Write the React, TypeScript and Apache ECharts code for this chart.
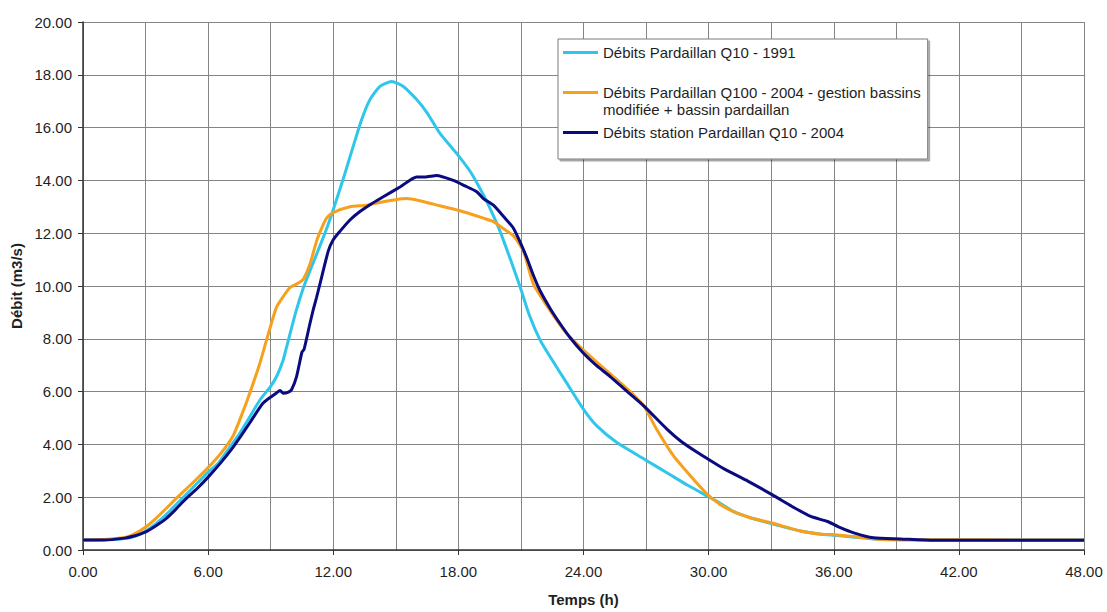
import React, { useEffect, useRef } from "react";
import * as echarts from "echarts";

// Hydrogrammes de crue à Pardaillan : temps (h) et débit (m3/s)
const cyanName = "Débits Pardaillan Q10 - 1991";
const orangeName = "Débits Pardaillan Q100 - 2004 - gestion bassins modifiée + bassin pardaillan";
const navyName = "Débits station Pardaillan Q10 - 2004";

const q10_1991_hours = [
  0, 1, 2, 2.5, 3, 3.5, 4, 4.5, 5, 5.5, 6, 6.5, 7, 7.5, 8, 8.5, 9, 9.3, 9.6, 9.8,
  10.2, 10.6, 11.1, 11.6, 11.92, 12.48, 12.96, 13.36, 13.76, 14.24, 14.8, 15.36,
  16.0, 16.5, 17.1, 18.0, 18.6, 19.2, 19.6, 20.0, 20.5, 20.96, 21.4, 21.92, 22.4,
  23.2, 24.0, 24.64, 25.6, 26.9, 28.2, 29.0, 29.8, 30.5, 31.2, 32, 33, 34.4, 35.4,
  36.2, 37.3, 38.1, 40, 48,
];
const q10_1991_flow = [
  0.38, 0.39, 0.44, 0.52, 0.72, 1.0, 1.35, 1.75, 2.15, 2.55, 2.95, 3.3, 3.85, 4.4,
  5.05, 5.7, 6.2, 6.6, 7.2, 7.8, 9.0, 10.0, 11.0, 12.0, 12.7, 14.06, 15.3, 16.3,
  17.06, 17.56, 17.75, 17.56, 17.06, 16.56, 15.8, 14.94, 14.3, 13.45, 12.8, 12.07,
  11.0, 9.97, 8.9, 7.95, 7.32, 6.32, 5.33, 4.7, 4.07, 3.45, 2.83, 2.45, 2.1, 1.8,
  1.45, 1.22, 1.0, 0.72, 0.6, 0.55, 0.46, 0.41, 0.38, 0.38,
];

const q100_2004_hours = [
  0, 1, 2, 2.4, 3.04, 3.5, 4, 4.4, 4.8, 5.4, 6.0, 6.6, 7.2, 7.6, 8.0, 8.48, 8.8,
  9.04, 9.28, 9.6, 9.92, 10.3, 10.56, 10.88, 11.2, 11.45, 11.68, 12.0, 12.8, 13.6,
  14.4, 15.0, 15.52, 16.2, 16.8, 18.08, 19.2, 19.68, 20.2, 20.64, 21.12, 21.6, 22.4,
  23.2, 24.0, 24.8, 25.6, 26.3, 26.9, 27.5, 28.3, 29.1, 29.9, 30.5, 31.2, 32, 33.05,
  34.4, 35.4, 36.2, 37.3, 38.1, 39, 48,
];
const q100_2004_flow = [
  0.38, 0.4, 0.47, 0.58, 0.89, 1.2, 1.58, 1.9, 2.2, 2.65, 3.12, 3.65, 4.33, 5.1,
  5.95, 7.07, 7.95, 8.6, 9.2, 9.6, 9.94, 10.1, 10.25, 10.82, 11.7, 12.2, 12.57,
  12.78, 13.0, 13.06, 13.19, 13.27, 13.31, 13.22, 13.1, 12.85, 12.57, 12.44, 12.15,
  11.9, 11.32, 10.07, 9.07, 8.19, 7.57, 7.0, 6.45, 5.95, 5.45, 4.58, 3.58, 2.83,
  2.14, 1.75, 1.45, 1.22, 1.02, 0.72, 0.6, 0.57, 0.47, 0.41, 0.39, 0.38,
];

const station_2004_hours = [
  0, 1, 2, 2.4, 3.04, 3.5, 4.0, 4.4, 4.72, 5.12, 5.5, 6.0, 6.6, 7.2, 7.6, 8.0, 8.64,
  9.28, 9.45, 9.6, 9.85, 10.0, 10.24, 10.5, 10.6, 10.88, 11.04, 11.2, 11.36, 11.76,
  12.0, 12.32, 12.8, 13.28, 13.8, 14.4, 15.2, 16.0, 16.4, 16.96, 17.76, 18.3, 18.88,
  19.2, 19.68, 20.2, 20.64, 21.0, 21.28, 21.6, 21.92, 22.4, 22.88, 23.4, 24.0, 24.6,
  25.28, 26.1, 26.9, 28.0, 28.7, 29.45, 30.1, 30.72, 31.9, 33.08, 34.0, 34.9, 35.7,
  36.2, 37.0, 37.9, 39.2, 40.8, 48,
];
const station_2004_flow = [
  0.38, 0.38, 0.45, 0.52, 0.7, 0.92, 1.2, 1.5, 1.77, 2.08, 2.35, 2.76, 3.3, 3.9,
  4.35, 4.82, 5.57, 5.95, 6.04, 5.94, 5.98, 6.07, 6.57, 7.5, 7.6, 8.57, 9.1, 9.57,
  10.07, 11.32, 11.75, 12.07, 12.5, 12.82, 13.1, 13.38, 13.75, 14.13, 14.13, 14.19,
  14.0, 13.8, 13.57, 13.31, 13.06, 12.6, 12.19, 11.6, 11.07, 10.4, 9.82, 9.15, 8.57,
  8.0, 7.45, 7.0, 6.57, 6.0, 5.45, 4.58, 4.1, 3.7, 3.38, 3.08, 2.6, 2.08, 1.65,
  1.27, 1.08, 0.89, 0.64, 0.46, 0.42, 0.37, 0.37,
];

const pair = (xs: number[], ys: number[]) => xs.map((x, i) => [x, ys[i]]);

const FONT = "Arial, 'Liberation Sans', Helvetica, sans-serif";
const TEXT = "#1f1f1f";
const GRID = "#858585";

export default function App() {
  const ref = useRef<HTMLDivElement>(null);

  useEffect(() => {
    if (!ref.current) return;
    const chart = echarts.init(ref.current, undefined, { renderer: "svg" });

    const lineSeries = (name: string, color: string, data: number[][], z: number) => ({
      name,
      type: "line",
      data,
      showSymbol: false,
      smooth: 0.2,
      z,
      lineStyle: { color, width: 3 },
      itemStyle: { color },
    });

    chart.setOption({
      animation: false,
      backgroundColor: "#ffffff",
      textStyle: { fontFamily: FONT },
      grid: { left: 83, right: 23, top: 22, bottom: 56 },
      legend: {
        orient: "vertical",
        left: 558,
        top: 39,
        padding: [5, 7, 18, 5],
        itemGap: 6,
        icon: "rect",
        itemWidth: 35,
        itemHeight: 3,
        selectedMode: false,
        backgroundColor: "#ffffff",
        borderColor: "#7a7a7a",
        borderWidth: 1,
        shadowColor: "rgba(0,0,0,0.35)",
        shadowOffsetX: 2,
        shadowOffsetY: 2,
        shadowBlur: 1,
        textStyle: { fontFamily: FONT, fontSize: 15, lineHeight: 17, color: TEXT },
        formatter: (name: string) =>
          name === orangeName
            ? "\nDébits Pardaillan Q100 - 2004 - gestion bassins\nmodifiée + bassin pardaillan"
            : name,
        data: [cyanName, orangeName, navyName],
      },
      xAxis: {
        type: "value",
        min: 0,
        max: 48,
        interval: 6,
        name: "Temps (h)",
        nameLocation: "middle",
        nameGap: 42,
        nameTextStyle: { fontFamily: FONT, fontSize: 15, fontWeight: "bold", color: TEXT },
        axisLine: { show: true, onZero: false, lineStyle: { color: "#333", width: 1.5 } },
        axisTick: { show: true, length: 5, lineStyle: { color: "#333" } },
        axisLabel: {
          margin: 14,
          fontFamily: FONT,
          fontSize: 15,
          color: TEXT,
          formatter: (v: number) => v.toFixed(2),
        },
        splitLine: { show: true, lineStyle: { color: GRID, width: 1 } },
        minorTick: { show: false, splitNumber: 2 },
        minorSplitLine: { show: true, lineStyle: { color: GRID, width: 1 } },
      },
      yAxis: {
        type: "value",
        min: 0,
        max: 20,
        interval: 2,
        name: "Débit (m3/s)",
        nameLocation: "middle",
        nameGap: 58,
        nameTextStyle: { fontFamily: FONT, fontSize: 15, fontWeight: "bold", color: TEXT },
        axisLine: { show: true, lineStyle: { color: "#333", width: 1.5 } },
        axisTick: { show: true, length: 5, lineStyle: { color: "#333" } },
        axisLabel: {
          margin: 11,
          fontFamily: FONT,
          fontSize: 15,
          color: TEXT,
          formatter: (v: number) => v.toFixed(2),
        },
        splitLine: { show: true, lineStyle: { color: GRID, width: 1 } },
      },
      series: [
        lineSeries(cyanName, "#2fc6ec", pair(q10_1991_hours, q10_1991_flow), 2),
        lineSeries(orangeName, "#f7a01c", pair(q100_2004_hours, q100_2004_flow), 3),
        lineSeries(navyName, "#0b0b80", pair(station_2004_hours, station_2004_flow), 4),
      ],
    });

    return () => chart.dispose();
  }, []);

  return (
    <div
      ref={ref}
      style={{ position: "fixed", left: 0, top: 0, width: 1107, height: 612, background: "#fff" }}
    />
  );
}
